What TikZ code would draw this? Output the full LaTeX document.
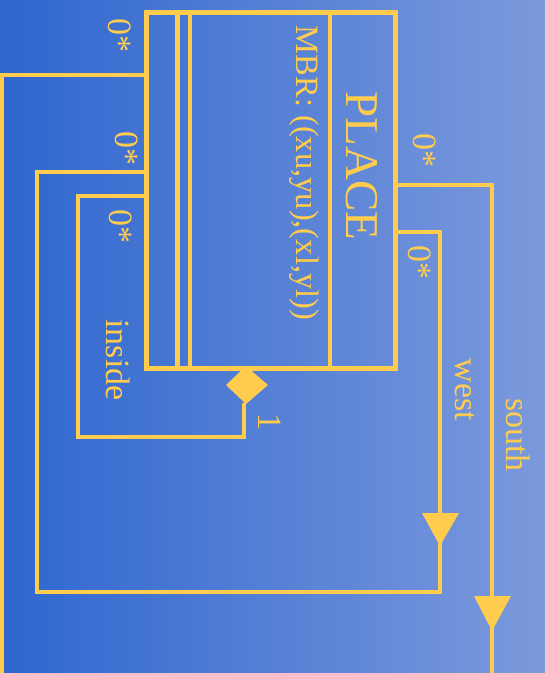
\documentclass[tikz,border=0pt]{standalone}
\usepackage{fontspec}
\setmainfont{Liberation Serif}
\begin{document}
\begin{tikzpicture}[x=1pt,y=-1pt]
\definecolor{gold}{RGB}{255,204,77}
\definecolor{bgl}{RGB}{46,102,207}
\definecolor{bgr}{RGB}{124,154,220}
\tikzset{
  ln/.style={draw=gold, line width=4.6pt, line join=miter},
  lbl/.style={text=gold, rotate=-90, inner sep=0pt, font=\fontsize{34}{38}\selectfont},
  tri/.style={fill=gold, draw=none}
}
\shade[left color=bgl, right color=bgr] (0,0) rectangle (545,673);
\useasboundingbox (0,0) rectangle (545,673);
% class box
\node[ln, rectangle, minimum width=249pt, minimum height=356pt, inner sep=0pt, anchor=north west] (box) at (144,10) {};
\draw[ln] (177.5,10) -- (177.5,366);
\draw[ln] (190,10) -- (190,366);
\draw[ln] (330,10) -- (330,366);
\node[lbl, font=\fontsize{47}{50}\selectfont] (title) at (362,166) {PLACE};
\node[lbl, font=\fontsize{32.5}{36}\selectfont] (attr) at (304,173) {MBR: ((xu,yu),(xl,yl))};
% connector 1 (left top, to bottom edge)
\coordinate (a1) at (144,75);
\coordinate (a2) at (2,75);
\coordinate (a3) at (2,673);
\draw[ln] (a1) -- (a2) -- (a3);
\node[lbl] (m1) at (120,35) {0*};
% connector 2 (west)
\coordinate (b1) at (144,172);
\coordinate (b2) at (37,172);
\coordinate (b3) at (37,592);
\coordinate (b4) at (440,592);
\coordinate (b5) at (440,232);
\coordinate (b6) at (393,232);
\draw[ln] (b1) -- (b2) -- (b3) -- (b4) -- (b5) -- (b6);
\fill[tri] (422,513) -- (459,513) -- (440,546) -- cycle;
\node[lbl] (m2) at (127,148) {0*};
\node[lbl] (m3) at (420,262) {0*};
\node[lbl] (west) at (465,390) {west};
% connector 3 (inside, composition)
\coordinate (c1) at (144,196);
\coordinate (c2) at (78,196);
\coordinate (c3) at (78,437);
\coordinate (c4) at (244,437);
\coordinate (c5) at (244,403);
\draw[ln] (c1) -- (c2) -- (c3) -- (c4) -- (c5);
\fill[tri] (246,366) -- (268,385) -- (246,404) -- (226,385) -- cycle;
\node[lbl] (m4) at (121,226) {0*};
\node[lbl] (inside) at (118,360) {inside};
\node[lbl] (one) at (270,422) {1};
% connector 4 (south)
\coordinate (d1) at (393,185);
\coordinate (d2) at (492,185);
\coordinate (d3) at (492,673);
\draw[ln] (d1) -- (d2) -- (d3);
\fill[tri] (474,596) -- (511,596) -- (492,631) -- cycle;
\node[lbl] (m5) at (425,150) {0*};
\node[lbl] (south) at (518,435) {south};
\end{tikzpicture}
\end{document}
